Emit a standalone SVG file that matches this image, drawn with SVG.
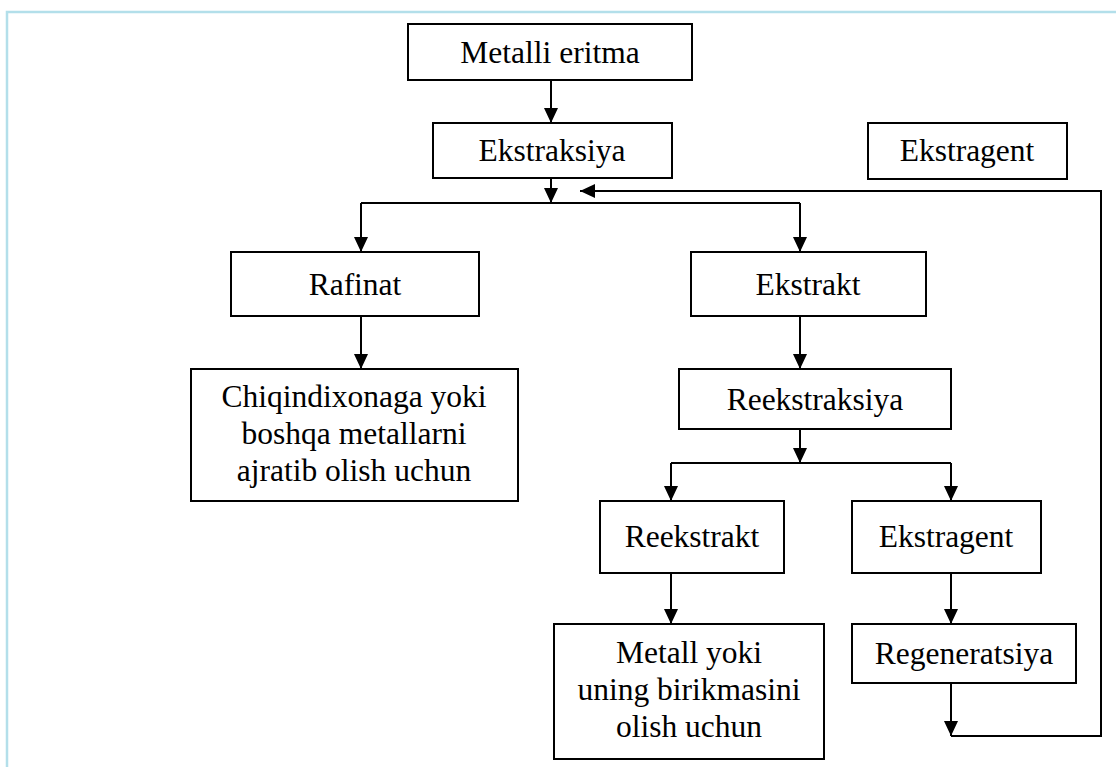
<svg xmlns="http://www.w3.org/2000/svg" width="1116" height="767" viewBox="0 0 1116 767">
<style>
.box{fill:#fff;stroke:#000;stroke-width:2}
.t{font-family:"Liberation Serif","Times New Roman",serif;font-size:31.5px;fill:#000;text-anchor:middle}
.c{fill:none;stroke:#000;stroke-width:2}
.a{marker-end:url(#ah)}
</style>
<defs>
<marker id="ah" markerUnits="userSpaceOnUse" markerWidth="16" markerHeight="14" refX="15" refY="7" orient="auto">
<path d="M0,0 L15,7 L0,14 z" fill="#000"/>
</marker>
</defs>
<rect width="1116" height="767" fill="#fff"/>
<path d="M7,767 V12 H1116" fill="none" stroke="#b3dfea" stroke-width="2.5"/>
<g id="connectors">
<path class="c a" d="M551,80 V123"/>
<path class="c a" d="M551,178 V203"/>
<path class="c" d="M361,203 H800"/>
<path class="c a" d="M361,203 V252"/>
<path class="c a" d="M800,203 V252"/>
<path class="c a" d="M361,316 V369"/>
<path class="c a" d="M800,316 V369"/>
<path class="c a" d="M800,429 V463"/>
<path class="c" d="M671,463 H951"/>
<path class="c a" d="M671,463 V501"/>
<path class="c a" d="M951,463 V501"/>
<path class="c a" d="M671,573 V624"/>
<path class="c a" d="M951,573 V624"/>
<path class="c a" d="M951,683 V736"/>
<path class="c a" d="M951,736 H1101 V191 H580"/>
</g>
<g id="metalli-eritma"><rect class="box" x="408" y="24" width="284" height="56"/><text class="t" x="550" y="63">Metalli eritma</text></g>
<g id="ekstraksiya"><rect class="box" x="433" y="123" width="239" height="55"/><text class="t" x="552" y="161">Ekstraksiya</text></g>
<g id="ekstragent-top"><rect class="box" x="868" y="123" width="199" height="56"/><text class="t" x="967" y="161">Ekstragent</text></g>
<g id="rafinat"><rect class="box" x="231" y="252" width="248" height="64"/><text class="t" x="355" y="295">Rafinat</text></g>
<g id="ekstrakt"><rect class="box" x="691" y="252" width="235" height="64"/><text class="t" x="808" y="295">Ekstrakt</text></g>
<g id="chiqindixonaga"><rect class="box" x="191" y="369" width="327" height="132"/><text class="t" x="354" y="407">Chiqindixonaga yoki</text><text class="t" x="354" y="444">boshqa metallarni</text><text class="t" x="354" y="481">ajratib olish uchun</text></g>
<g id="reekstraksiya"><rect class="box" x="679" y="369" width="272" height="60"/><text class="t" x="815" y="410">Reekstraksiya</text></g>
<g id="reekstrakt"><rect class="box" x="600" y="501" width="184" height="72"/><text class="t" x="692" y="547">Reekstrakt</text></g>
<g id="ekstragent-bottom"><rect class="box" x="852" y="501" width="189" height="72"/><text class="t" x="946" y="547">Ekstragent</text></g>
<g id="metall-yoki"><rect class="box" x="554" y="624" width="270" height="135"/><text class="t" x="689" y="663">Metall yoki</text><text class="t" x="689" y="700">uning birikmasini</text><text class="t" x="689" y="737">olish uchun</text></g>
<g id="regeneratsiya"><rect class="box" x="852" y="624" width="224" height="59"/><text class="t" x="964" y="664">Regeneratsiya</text></g>
</svg>
